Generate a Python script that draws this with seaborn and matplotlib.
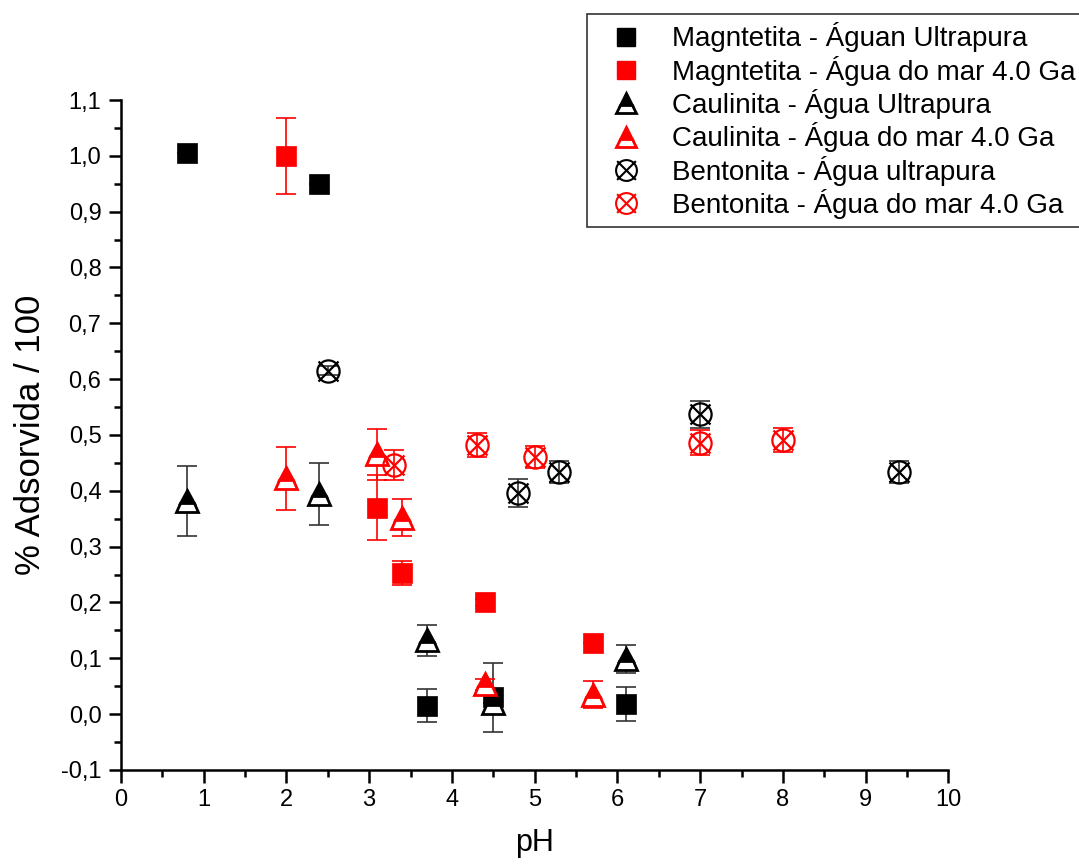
import matplotlib
matplotlib.use("Agg")
import matplotlib.pyplot as plt
from matplotlib.lines import Line2D
from matplotlib.path import Path
from matplotlib.ticker import MultipleLocator, FuncFormatter
import seaborn as sns
import pandas as pd

# ---- data ----
mag_up_x = [0.8, 2.4, 3.7, 4.5, 6.1]
mag_up_y = [1.005, 0.95, 0.015, 0.03, 0.018]
mag_up_e = [0.0, 0.0, 0.029, 0.062, 0.030]

mag_mar_x = [2.0, 3.1, 3.4, 4.4, 5.7]
mag_mar_y = [1.0, 0.37, 0.253, 0.20, 0.128]
mag_mar_e = [0.068, 0.058, 0.022, 0.006, 0.0]

cau_up_x = [0.8, 2.4, 3.7, 4.5, 6.1]
cau_up_y = [0.382, 0.394, 0.132, 0.02, 0.098]
cau_up_e = [0.063, 0.056, 0.028, 0.0, 0.025]

cau_mar_x = [2.0, 3.1, 3.4, 4.4, 5.7]
cau_mar_y = [0.422, 0.465, 0.352, 0.053, 0.035]
cau_mar_e = [0.057, 0.045, 0.033, 0.010, 0.025]

ben_up_x = [2.5, 4.8, 5.3, 7.0, 9.4]
ben_up_y = [0.615, 0.396, 0.434, 0.537, 0.434]
ben_up_e = [0.008, 0.025, 0.020, 0.024, 0.020]

ben_mar_x = [3.3, 4.3, 5.0, 7.0, 8.0]
ben_mar_y = [0.446, 0.482, 0.461, 0.486, 0.491]
ben_mar_e = [0.027, 0.022, 0.020, 0.022, 0.022]

labels = ["Magntetita - Águan Ultrapura",
          "Magntetita - Água do mar 4.0 Ga",
          "Caulinita - Água Ultrapura",
          "Caulinita - Água do mar 4.0 Ga",
          "Bentonita - Água ultrapura",
          "Bentonita - Água do mar 4.0 Ga"]

sns.set_theme(style="ticks")
plt.rcParams["font.family"] = ["Liberation Sans", "DejaVu Sans"]
plt.rcParams["text.color"] = "black"
plt.rcParams["axes.labelcolor"] = "black"

# circle with an X (circled-times marker)
circ = Path.unit_circle()
d = 0.9
xpath = Path([(-d, -d), (d, d), (-d, d), (d, -d)],
             [Path.MOVETO, Path.LINETO, Path.MOVETO, Path.LINETO])
otimes = Path.make_compound_path(circ, xpath)

fig = plt.figure(figsize=(10.79, 8.66), dpi=100)
ax = fig.add_axes([0.112, 0.111, 0.767, 0.7735])

series = [
    (mag_up_x, mag_up_y, mag_up_e, "black", "s"),
    (mag_mar_x, mag_mar_y, mag_mar_e, "red", "s"),
    (cau_up_x, cau_up_y, cau_up_e, "black", "^"),
    (cau_mar_x, cau_mar_y, cau_mar_e, "red", "^"),
    (ben_up_x, ben_up_y, ben_up_e, "black", "o"),
    (ben_mar_x, ben_mar_y, ben_mar_e, "red", "o"),
]

handles = []
for (x, y, e, c, m), lab in zip(series, labels):
    df = pd.DataFrame({"x": x, "y": y, "e": e})
    ecol = "#333333" if c == "black" else "red"
    ax.errorbar(df["x"], df["y"], yerr=df["e"], fmt="none", ecolor=ecol,
                elinewidth=1.2, capsize=7, capthick=1.2, zorder=2)
    if m == "s":
        sns.scatterplot(data=df, x="x", y="y", marker="s", color=c, s=200,
                        edgecolor=c, linewidth=0.5, ax=ax, zorder=3, legend=False)
        h = Line2D([], [], ls="none", marker="s", color=c, markersize=12.5)
    elif m == "^":
        ax.plot(df["x"], df["y"], ls="none", marker="^", markersize=16,
                fillstyle="top", markerfacecolor=c, markerfacecoloralt="white",
                markeredgecolor=c, markeredgewidth=2, zorder=3)
        h = Line2D([], [], ls="none", marker="^", markersize=15, fillstyle="top",
                   markerfacecolor=c, markerfacecoloralt="white",
                   markeredgecolor=c, markeredgewidth=2)
    else:
        ax.plot(df["x"], df["y"], ls="none", marker=otimes, markersize=16,
                markerfacecolor="none", markeredgecolor=c,
                markeredgewidth=1.6, zorder=3)
        h = Line2D([], [], ls="none", marker=otimes, markersize=15,
                   markerfacecolor="none", markeredgecolor=c, markeredgewidth=1.5)
    handles.append(h)

ax.set_xlim(0, 10)
ax.set_ylim(-0.1, 1.1)
ax.xaxis.set_major_locator(MultipleLocator(1))
ax.xaxis.set_minor_locator(MultipleLocator(0.5))
ax.yaxis.set_major_locator(MultipleLocator(0.1))
ax.yaxis.set_minor_locator(MultipleLocator(0.05))
ax.yaxis.set_major_formatter(FuncFormatter(lambda v, p: f"{v:.1f}".replace(".", ",").replace("-0,0", "0,0")))
ax.xaxis.set_major_formatter(FuncFormatter(lambda v, p: f"{int(round(v))}"))

for s in ["top", "right"]:
    ax.spines[s].set_visible(False)
for s in ["left", "bottom"]:
    ax.spines[s].set_linewidth(1.8)
    ax.spines[s].set_color("black")
ax.tick_params(which="major", direction="out", length=9, width=1.8, labelsize=17,
               colors="black", pad=5)
ax.tick_params(which="minor", direction="out", length=5, width=1.8, colors="black")

ax.set_xlabel("pH", fontsize=22, labelpad=12)
ax.set_ylabel("% Adsorvida / 100", fontsize=25, labelpad=10)

leg = fig.legend(handles, labels, loc="upper left", bbox_to_anchor=(587 / 1079, 1 - 14 / 866),
                 fontsize=20, frameon=True, fancybox=False, edgecolor="black",
                 borderpad=0.3, labelspacing=0.12, handletextpad=0.55,
                 handlelength=2.2, borderaxespad=0.0)
leg.get_frame().set_linewidth(1.2)

fig.savefig("out.png", dpi=100)
